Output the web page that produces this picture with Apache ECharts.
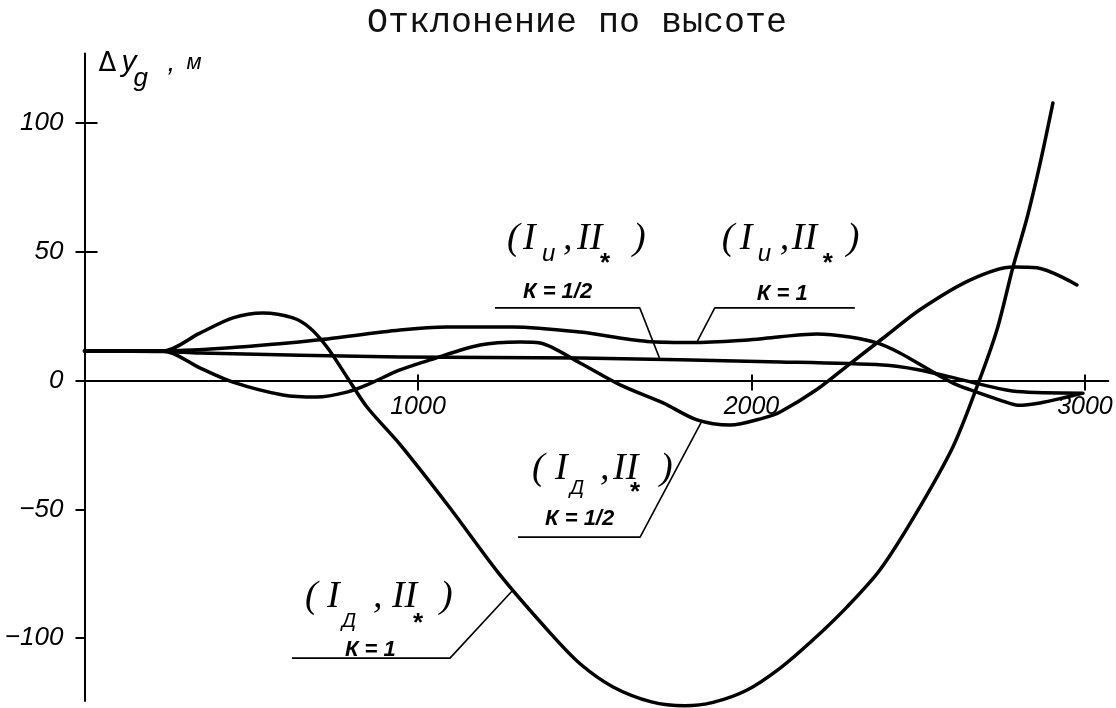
<!DOCTYPE html>
<html>
<head>
<meta charset="utf-8">
<script src="https://cdn.jsdelivr.net/npm/echarts@6/dist/echarts.min.js"></script>
<style>
  html, body { margin: 0; padding: 0; background: #fff; }
  #c { width: 1116px; height: 708px; }
</style>
</head>
<body>
<div id="c"></div>
<script>
// Заголовок и деления осей
const titleText = 'Отклонение по высоте';
const xTicks = [1000, 2000, 3000];
const yTicks = [-100, -50, 0, 50, 100];
const yTicksCross = [50, 100];
const xMin = 0, xMax = 3070, yMin = -124.5, yMax = 127;

// Отклонение по высоте Δy_g, м, как функция x — пары [x, Δy]
const devIiK05 = [[0,11.5],[235,11.3],[346,10.7],[946,9.1],[1486,8.7],[2086,7.2],[2394,6.0],[2500,4.2],[2595,1.4],[2694,-1.7],[2796,-4.3],[2994,-4.9]];
const devIiK1  = [[0,11.5],[235,11.5],[505,13.4],[697,15.7],[946,19.6],[1087,20.8],[1285,20.8],[1486,18.8],[1687,15.2],[1837,14.8],[1996,15.8],[2086,17.0],[2196,18.1],[2295,16.9],[2376,14.6],[2445,10.7],[2544,3.3],[2616,-1.7],[2676,-4.5],[2745,-7.6],[2800,-9.6],[2865,-8.7],[2946,-6.4],[2985,-5.2]];
const devIdK05 = [[0,11.5],[235,11.5],[346,4.9],[445,-0.6],[595,-5.6],[697,-6.4],[787,-4.5],[847,-1.7],[946,4.1],[1036,8.0],[1186,13.8],[1306,15.0],[1366,14.6],[1486,6.8],[1606,-1.7],[1735,-8.7],[1837,-15.3],[1936,-17.3],[2035,-14.6],[2086,-12.2],[2196,-3.5],[2295,6.5],[2400,17.0],[2505,27.5],[2655,39.0],[2784,44.1],[2856,43.8],[2976,37.1]];
const devIdK1  = [[0,11.5],[235,11.5],[346,18.4],[445,24.3],[535,26.2],[625,24.3],[676,20.4],[727,13.0],[787,1.4],[847,-10.3],[946,-24.8],[1096,-49.5],[1246,-75.5],[1396,-98],[1486,-110],[1585,-119],[1700,-124.8],[1800,-126.3],[1885,-125],[1987,-120.2],[2086,-111.7],[2184,-100.8],[2286,-88.0],[2385,-73.6],[2490,-52.4],[2604,-25.8],[2676,-2.5],[2736,19.6],[2784,44.0],[2826,63.0],[2865,84.0],[2904,107.8]];

// Подписи кривых: текст и выноска (полка [x, Δy] — излом — точка на кривой при x)
const labelSubs = ['и', 'и', 'Д', 'Д'];
const labelKs = ['К = 1/2', 'К = 1', 'К = 1/2', 'К = 1'];
const shelfA = [[1231, 28.2], [1665, 28.2]];
const shelfB = [[2310, 28.2], [1890, 28.2]];
const shelfC = [[1300, -60.8], [1666, -60.8]];
const shelfD = [[622, -107.8], [1096, -107.8]];
const leaderTargetX = [1726, 1836, 1852, 1285];

function interp(arr, x) {
  for (let i = 1; i < arr.length; i++) {
    if (x <= arr[i][0]) {
      const [x0, y0] = arr[i - 1], [x1, y1] = arr[i];
      return y0 + (y1 - y0) * (x - x0) / (x1 - x0);
    }
  }
  return arr[arr.length - 1][1];
}

const curves = [devIiK05, devIiK1, devIdK05, devIdK1];
const shelves = [shelfA, shelfB, shelfC, shelfD];
const leaders = shelves.map((s, i) => s.concat([[leaderTargetX[i], interp(curves[i], leaderTargetX[i])]]));

const curveSeries = curves.map(d => ({
  type: 'line', data: d, xAxisIndex: 0, yAxisIndex: 0,
  smooth: 0.3, showSymbol: false, symbol: 'none', clip: false, silent: true,
  lineStyle: { color: '#000', width: 3.5, cap: 'round', join: 'round' }
}));
const leaderSeries = leaders.map(d => ({
  type: 'line', data: d, xAxisIndex: 0, yAxisIndex: 0,
  smooth: false, showSymbol: false, symbol: 'none', clip: false, silent: true,
  lineStyle: { color: '#000', width: 1.6 }
}));

const chart = echarts.init(document.getElementById('c'));

const gridBox = { left: 84.5, top: 53.5, width: 1023.8, height: 647.6 };
// ось абсцисс проходит через Δy = 0: сдвиг вверх от нижнего края сетки
const xAxisShift = -gridBox.height * (0 - yMin) / (yMax - yMin);

const axisFontX = { fontFamily: '"Liberation Sans", sans-serif', fontStyle: 'italic', fontSize: 25, color: '#000' };
const axisFontY = { fontFamily: '"Liberation Sans", sans-serif', fontStyle: 'italic', fontSize: 26, color: '#000' };
const fmtNum = v => (v < 0 ? '\u2212' + Math.abs(v) : String(v));

chart.setOption({
  animation: false,
  backgroundColor: '#fff',
  title: {
    text: titleText, left: 362, top: 0,
    textStyle: { fontFamily: '"Liberation Mono", monospace', fontSize: 35, fontWeight: 'normal', color: '#111' }
  },
  grid: Object.assign({ outerBoundsMode: 'none' }, gridBox),
  xAxis: [{
    type: 'value', min: xMin, max: xMax, position: 'bottom', offset: xAxisShift,
    axisLine: { show: true, onZero: false, lineStyle: { color: '#000', width: 2 } },
    axisTick: { show: true, customValues: xTicks, length: 10, lineStyle: { color: '#000', width: 2 } },
    axisLabel: { show: true, customValues: xTicks, margin: 14, hideOverlap: false, formatter: fmtNum, ...axisFontX },
    splitLine: { show: false }
  }, {
    type: 'value', min: xMin, max: xMax, position: 'bottom', offset: xAxisShift,
    axisLine: { show: false, onZero: false },
    axisTick: { show: true, inside: true, customValues: xTicks, length: 6, lineStyle: { color: '#000', width: 2 } },
    axisLabel: { show: false },
    splitLine: { show: false }
  }],
  yAxis: [{
    type: 'value', min: yMin, max: yMax, position: 'left',
    axisLine: { show: true, onZero: false, lineStyle: { color: '#000', width: 2 } },
    axisTick: { show: true, customValues: yTicks, length: 9, lineStyle: { color: '#000', width: 2 } },
    axisLabel: { show: true, customValues: yTicks, margin: 21, formatter: fmtNum, ...axisFontY },
    splitLine: { show: false }
  }, {
    type: 'value', min: yMin, max: yMax, position: 'left',
    axisLine: { show: false, onZero: false },
    axisTick: { show: true, inside: true, customValues: yTicksCross, length: 13, lineStyle: { color: '#000', width: 2 } },
    axisLabel: { show: false },
    splitLine: { show: false }
  }],
  series: curveSeries.concat(leaderSeries)
});

// Надписи у кривых и у оси ординат
const MAIN = 'italic 38px "Liberation Serif", serif';
const SUB_LC = 'italic 24px "Liberation Sans", sans-serif';
const SUB_UC = 'italic 20px "Liberation Sans", sans-serif';
const STAR = 'bold 26px "Liberation Sans", sans-serif';
const KFONT = 'italic bold 22px "Liberation Sans", sans-serif';

const layouts = [
  { x: { o: 12, I: 28, s: 47, c: 68, II: 82, st: 105, cl: 138, k: 28 }, y: { m: -69, s: -54, st: -44.5, k: -15.5 }, sf: SUB_LC },
  { x: { o: 7, I: 25, s: 43, c: 65, II: 77, st: 108, cl: 132, k: 42 }, y: { m: -69, s: -54, st: -44.5, k: -13.5 }, sf: SUB_LC },
  { x: { o: 14, I: 37, s: 52, c: 82, II: 95, st: 112, cl: 142, k: 27 }, y: { m: -68, s: -48.5, st: -44, k: -18 }, sf: SUB_UC },
  { x: { o: 13, I: 35, s: 50, c: 81, II: 100, st: 121, cl: 148, k: 53 }, y: { m: -61, s: -36.5, st: -34, k: -8 }, sf: SUB_UC }
];

function txt(x, y, text, font) {
  return {
    type: 'text', x: x, y: y, silent: true,
    style: { text: text, font: font, fill: '#000', align: 'left', verticalAlign: 'middle',
             textAlign: 'left', textVerticalAlign: 'middle' }
  };
}

const elements = [];
shelves.forEach((s, i) => {
  const anchor = s[0][0] < s[1][0] ? s[0] : s[1];
  const p = chart.convertToPixel({ gridIndex: 0 }, anchor);
  const L = layouts[i];
  elements.push(
    txt(p[0] + L.x.o, p[1] + L.y.m, '(', MAIN),
    txt(p[0] + L.x.I, p[1] + L.y.m, 'I', MAIN),
    txt(p[0] + L.x.s, p[1] + L.y.s, labelSubs[i], L.sf),
    txt(p[0] + L.x.c, p[1] + L.y.m, ',', MAIN),
    txt(p[0] + L.x.II, p[1] + L.y.m, 'II', MAIN),
    txt(p[0] + L.x.st, p[1] + L.y.st, '*', STAR),
    txt(p[0] + L.x.cl, p[1] + L.y.m, ')', MAIN),
    txt(p[0] + L.x.k, p[1] + L.y.k, labelKs[i], KFONT)
  );
});

const axisTopPx = chart.convertToPixel({ gridIndex: 0 }, [0, yMax]);
elements.push(
  txt(axisTopPx[0] + 14, axisTopPx[1] + 11, '\u0394', '26px "DejaVu Sans", sans-serif'),
  txt(axisTopPx[0] + 37, axisTopPx[1] + 9.3, 'y', 'italic 30px "Liberation Sans", sans-serif'),
  txt(axisTopPx[0] + 49, axisTopPx[1] + 25, 'g', 'italic 26px "Liberation Sans", sans-serif'),
  txt(axisTopPx[0] + 83, axisTopPx[1] + 10, ',', 'italic 28px "Liberation Sans", sans-serif'),
  txt(axisTopPx[0] + 102, axisTopPx[1] + 9.7, 'м', 'italic 22px "Liberation Sans", sans-serif')
);

chart.setOption({ graphic: { elements: elements } });
</script>
</body>
</html>
